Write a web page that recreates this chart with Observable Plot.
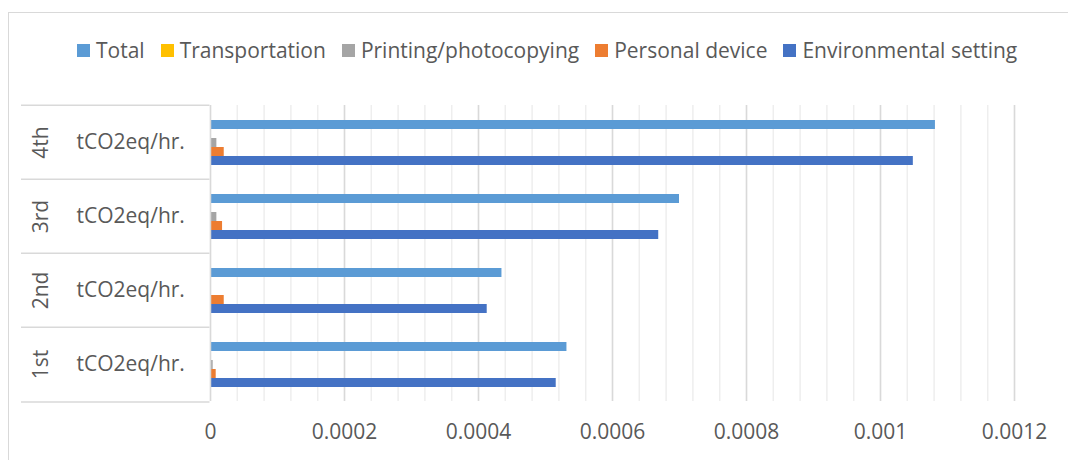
<!DOCTYPE html>
<html>
<head>
<meta charset="utf-8">
<script src="https://cdn.jsdelivr.net/npm/d3@7"></script>
<script src="https://cdn.jsdelivr.net/npm/@observablehq/plot@0.6"></script>
<style>
  html, body { margin: 0; padding: 0; background: #fff; }
  #wrap { position: relative; width: 1068px; height: 460px; overflow: hidden; background: #fff; font-family: 'Open Sans', sans-serif; color: #595959; }
  #border { position: absolute; left: 8px; top: 12px; right: -4px; bottom: -4px; border-left: 1.5px solid #d9d9d9; border-top: 1.5px solid #d9d9d9; }
  #legend { position: absolute; left: 77px; top: 35px; display: flex; align-items: center; gap: 16px; font-size: 21px; white-space: nowrap; line-height: 30px; }
  #legend .item { display: flex; align-items: center; }
  #legend .sw { width: 13px; height: 13px; margin-right: 6px; display: inline-block; }
  #chart { position: absolute; left: 0; top: 0; }
</style>
</head>
<body>
<div id="wrap">
  <div id="border"></div>
  <div id="legend"></div>
  <div id="chart"></div>
</div>
<script>
// ---- data ----
const periods = ["4th", "3rd", "2nd", "1st"];
const series = ["Total", "Transportation", "Printing/photocopying", "Personal device", "Environmental setting"];
const colors = ["#5B9BD5", "#FFC000", "#A5A5A5", "#ED7D31", "#4472C4"];
// values in period order (4th, 3rd, 2nd, 1st)
const total          = [0.001082, 0.000700, 0.000435, 0.000532];
const transportation = [0, 0, 0, 0];
const printing       = [0.0000095, 0.0000095, 0, 0.000004];
const personal       = [0.0000205, 0.000018, 0.0000205, 0.0000085];
const environmental  = [0.001049, 0.000669, 0.000413, 0.000516];
const unitLabel = "tCO2eq/hr.";
const xTicks = [0, 0.0002, 0.0004, 0.0006, 0.0008, 0.001, 0.0012];
const xTickLabels = ["0", "0.0002", "0.0004", "0.0006", "0.0008", "0.001", "0.0012"];

// ---- build table ----
const bySeries = [total, transportation, printing, personal, environmental];
const data = periods.flatMap((p, i) => series.map((s, j) => ({period: p, series: s, value: bySeries[j][i]})));
const minorTicks = d3.range(0, 31).map(k => k * 0.00004);

// ---- legend ----
const legend = document.getElementById("legend");
series.forEach((s, j) => {
  const it = document.createElement("div");
  it.className = "item";
  const sw = document.createElement("span");
  sw.className = "sw";
  sw.style.background = colors[j];
  const tx = document.createElement("span");
  tx.textContent = s;
  it.appendChild(sw); it.appendChild(tx);
  legend.appendChild(it);
});

// ---- chart ----
const W = 1068, H = 460, mL = 210, mR = 54, mT = 103, mB = 58;
const fh = (H - mT - mB) / periods.length;
const sep = {stroke: "#d9d9d9", strokeWidth: 1.5, insetLeft: -189, insetRight: W - mR - mL + 0.5};

const chart = Plot.plot({
  width: W, height: H,
  marginLeft: mL, marginRight: mR, marginTop: mT, marginBottom: mB,
  style: {fontFamily: "'Open Sans', sans-serif", fontSize: "21px", color: "#595959", background: "transparent", overflow: "visible"},
  x: {domain: [0, 0.0012], ticks: xTicks, tickFormat: d => xTickLabels[xTicks.indexOf(d)] ?? String(d), tickSize: 0, tickPadding: 23, label: null},
  y: {domain: series, axis: null, paddingInner: 0, paddingOuter: 1.4},
  fy: {domain: periods, axis: null, padding: 0},
  color: {domain: series, range: colors},
  marks: [
    Plot.ruleX(minorTicks, {stroke: "#eeeeee", strokeWidth: 1.5}),
    Plot.ruleX(xTicks.slice(1), {stroke: "#d9d9d9", strokeWidth: 1.5}),
    Plot.barX(data, {x: "value", y: "series", fy: "period", fill: "series", insetTop: 0, insetBottom: 0}),
    Plot.ruleX([0], {stroke: "#d9d9d9", strokeWidth: 1.5}),
    Plot.ruleY(periods, {fy: d => d, y: null, dy: -fh / 2, ...sep}),
    Plot.ruleY(periods.slice(-1), {fy: d => d, y: null, dy: fh / 2, ...sep}),
    Plot.text(periods, {fy: d => d, text: d => d, frameAnchor: "left", textAnchor: "middle", dx: -169, rotate: -90, fill: "#595959"}),
    Plot.text(periods, {fy: d => d, text: () => unitLabel, frameAnchor: "left", textAnchor: "start", dx: -134, fill: "#595959"})
  ]
});
document.getElementById("chart").appendChild(chart);
</script>
</body>
</html>
